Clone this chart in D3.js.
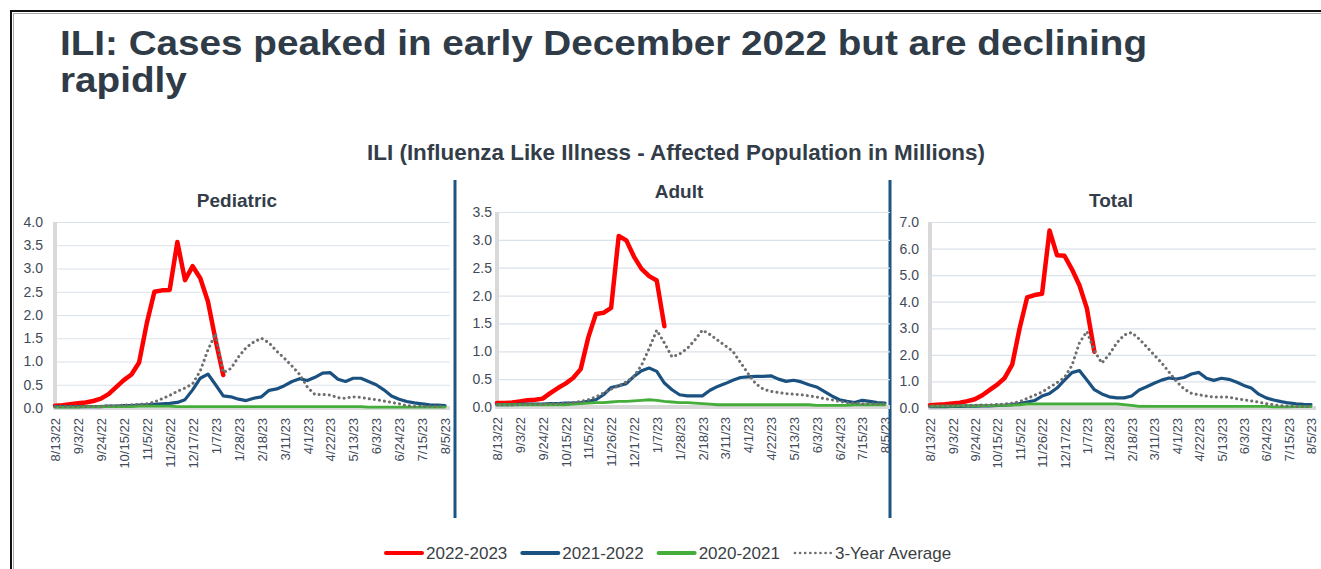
<!DOCTYPE html>
<html>
<head>
<meta charset="utf-8">
<script src="https://cdn.jsdelivr.net/npm/d3@7"></script>
<style>
  body { margin: 0; background: #fff; }
  text { font-family: "Liberation Sans", Arial, sans-serif; }
</style>
</head>
<body>
<svg width="1321" height="569"></svg>
<script>
// weekly categories (week ending)
const weeks = ["8/13/22","8/20/22","8/27/22","9/3/22","9/10/22","9/17/22","9/24/22","10/1/22","10/8/22","10/15/22",
  "10/22/22","10/29/22","11/5/22","11/12/22","11/19/22","11/26/22","12/3/22","12/10/22","12/17/22","12/24/22",
  "12/31/22","1/7/23","1/14/23","1/21/23","1/28/23","2/4/23","2/11/23","2/18/23","2/25/23","3/4/23",
  "3/11/23","3/18/23","3/25/23","4/1/23","4/8/23","4/15/23","4/22/23","4/29/23","5/6/23","5/13/23",
  "5/20/23","5/27/23","6/3/23","6/10/23","6/17/23","6/24/23","7/1/23","7/8/23","7/15/23","7/22/23",
  "7/29/23","8/5/23"];
const tickWeeks = ["8/13/22","9/3/22","9/24/22","10/15/22","11/5/22","11/26/22","12/17/22","1/7/23","1/28/23",
  "2/18/23","3/11/23","4/1/23","4/22/23","5/13/23","6/3/23","6/24/23","7/15/23","8/5/23"];

const seriesNames = ["2022-2023", "2021-2022", "2020-2021", "3-Year Average"];

// Pediatric
const pedRed = [0.05,0.06,0.08,0.10,0.12,0.15,0.20,0.30,0.45,0.60,0.72,0.98,1.82,2.50,2.53,2.54,3.57,2.75,3.05,2.79,2.29,1.46,0.71];
const pedBlue = [0.03,0.03,0.03,0.03,0.03,0.03,0.03,0.04,0.04,0.05,0.05,0.06,0.07,0.08,0.09,0.10,0.12,0.18,0.39,0.64,
  0.73,0.50,0.26,0.24,0.19,0.16,0.21,0.24,0.38,0.41,0.48,0.57,0.63,0.59,0.66,0.75,0.76,0.62,0.57,0.64,
  0.64,0.57,0.50,0.39,0.26,0.19,0.14,0.11,0.09,0.07,0.06,0.05];
const pedGreen = [0.02,0.02,0.02,0.02,0.03,0.03,0.03,0.03,0.03,0.03,0.03,0.04,0.04,0.04,0.04,0.04,0.03,0.03,0.03,0.03,
  0.03,0.03,0.03,0.03,0.03,0.03,0.03,0.03,0.03,0.03,0.03,0.03,0.03,0.03,0.03,0.03,0.03,0.03,0.03,0.03,
  0.03,0.02,0.02,0.02,0.02,0.02,0.02,0.02,0.02,0.02,0.02,0.02];
const pedAvg = [0.03,0.03,0.03,0.03,0.03,0.04,0.04,0.05,0.05,0.06,0.07,0.08,0.09,0.13,0.20,0.27,0.36,0.43,0.52,0.80,
  1.25,1.60,0.76,0.85,1.10,1.30,1.42,1.50,1.40,1.22,1.07,0.90,0.72,0.45,0.29,0.29,0.28,0.22,0.21,0.24,
  0.23,0.20,0.18,0.15,0.12,0.09,0.05,0.04,0.04,0.04,0.04,0.04];

// Adult
const adultRed = [0.07,0.07,0.08,0.10,0.12,0.13,0.15,0.25,0.34,0.42,0.52,0.68,1.25,1.67,1.69,1.78,3.07,2.99,2.70,2.48,2.35,2.27,1.45];
const adultBlue = [0.04,0.04,0.04,0.05,0.05,0.05,0.05,0.06,0.06,0.07,0.07,0.08,0.10,0.13,0.22,0.35,0.38,0.42,0.55,0.65,
  0.70,0.64,0.43,0.31,0.22,0.20,0.20,0.20,0.30,0.37,0.42,0.48,0.53,0.54,0.55,0.55,0.56,0.50,0.46,0.48,
  0.45,0.40,0.36,0.28,0.20,0.13,0.10,0.08,0.12,0.10,0.08,0.07];
const adultGreen = [0.04,0.04,0.04,0.04,0.04,0.04,0.04,0.04,0.04,0.04,0.05,0.06,0.07,0.08,0.08,0.09,0.10,0.10,0.11,0.12,
  0.13,0.12,0.10,0.09,0.08,0.08,0.07,0.06,0.05,0.04,0.04,0.04,0.04,0.04,0.04,0.04,0.04,0.04,0.04,0.04,
  0.04,0.04,0.03,0.03,0.03,0.03,0.03,0.04,0.04,0.04,0.04,0.04];
const adultAvg = [0.04,0.04,0.04,0.04,0.05,0.05,0.05,0.06,0.06,0.07,0.08,0.10,0.13,0.18,0.25,0.32,0.38,0.45,0.55,0.75,
  1.05,1.38,1.15,0.90,0.95,1.05,1.20,1.38,1.30,1.20,1.10,1.00,0.80,0.60,0.42,0.32,0.28,0.26,0.24,0.23,
  0.22,0.20,0.18,0.15,0.13,0.10,0.08,0.07,0.06,0.06,0.06,0.06];

// Total
const totalRed = [0.10,0.12,0.14,0.17,0.20,0.26,0.33,0.48,0.68,0.88,1.13,1.63,3.00,4.16,4.25,4.30,6.68,5.75,5.73,5.22,4.62,3.75,2.12];
const totalBlue = [0.05,0.05,0.05,0.06,0.06,0.07,0.07,0.08,0.08,0.10,0.11,0.13,0.17,0.22,0.28,0.45,0.55,0.75,1.05,1.33,
  1.41,1.05,0.69,0.53,0.42,0.38,0.38,0.45,0.68,0.80,0.93,1.05,1.13,1.09,1.15,1.28,1.34,1.12,1.04,1.12,
  1.08,0.98,0.85,0.75,0.52,0.38,0.30,0.24,0.19,0.16,0.14,0.13];
const totalGreen = [0.07,0.07,0.07,0.07,0.08,0.08,0.08,0.09,0.09,0.10,0.10,0.11,0.12,0.15,0.15,0.15,0.15,0.15,0.15,0.15,
  0.15,0.15,0.15,0.15,0.15,0.15,0.13,0.10,0.06,0.06,0.06,0.06,0.06,0.06,0.06,0.06,0.06,0.06,0.06,0.06,
  0.06,0.06,0.06,0.06,0.06,0.06,0.04,0.04,0.04,0.05,0.05,0.05];
const totalAvg = [0.07,0.07,0.08,0.08,0.09,0.10,0.10,0.11,0.12,0.13,0.15,0.18,0.24,0.36,0.48,0.60,0.78,0.95,1.15,1.60,
  2.45,2.88,2.15,1.69,2.02,2.45,2.75,2.84,2.60,2.30,2.00,1.70,1.35,1.00,0.72,0.55,0.50,0.45,0.41,0.41,
  0.41,0.35,0.31,0.27,0.22,0.16,0.12,0.09,0.07,0.06,0.06,0.06];

const colors = ["#ff0000", "#1a5180", "#45ad3a", "#6e6e6e"];
const widths = [4.5, 3.2, 2.8, 3];
const dots = "0.1,5";

const svg = d3.select("svg");
const tickColor = "#3f4a57";

// slide frame
svg.append("line").attr("x1", 10).attr("x2", 1321).attr("y1", 11).attr("y2", 11)
    .attr("stroke", "#111").attr("stroke-width", 2);
svg.append("line").attr("x1", 11).attr("x2", 11).attr("y1", 10).attr("y2", 569)
    .attr("stroke", "#111").attr("stroke-width", 2);
svg.append("line").attr("x1", 13).attr("x2", 1321).attr("y1", 13.5).attr("y2", 13.5)
    .attr("stroke", "#aaa").attr("stroke-width", 1);
svg.append("line").attr("x1", 13.5).attr("x2", 13.5).attr("y1", 13).attr("y2", 569)
    .attr("stroke", "#aaa").attr("stroke-width", 1);

function fitWidth(sel, w) {
    let size = parseFloat(sel.attr("font-size"));
    let len = sel.node().getComputedTextLength();
    sel.attr("font-size", size * w / len);
}

// headline: 35px glyphs, stretched sideways like the slide's rendering
const title1 = svg.append("text").attr("x", 60).attr("y", 55)
    .attr("font-size", 35).attr("font-weight", "bold").attr("fill", "#2f3b47")
    .text("ILI: Cases peaked in early December 2022 but are declining");
const stretch = 1087 / title1.node().getComputedTextLength();
title1.attr("textLength", 1087).attr("lengthAdjust", "spacingAndGlyphs");
const title2 = svg.append("text").attr("x", 60).attr("y", 92)
    .attr("font-size", 35).attr("font-weight", "bold").attr("fill", "#2f3b47")
    .text("rapidly");
title2.attr("textLength", title2.node().getComputedTextLength() * stretch)
    .attr("lengthAdjust", "spacingAndGlyphs");

const sub = svg.append("text").attr("x", 676).attr("y", 160).attr("text-anchor", "middle")
    .attr("font-size", 18).attr("font-weight", "bold").attr("fill", "#333d48")
    .text("ILI (Influenza Like Illness - Affected Population in Millions)");
fitWidth(sub, 618);

// dividers between panels
[455, 890].forEach(x => {
    svg.append("line").attr("x1", x).attr("x2", x).attr("y1", 180).attr("y2", 518)
        .attr("stroke", "#1b5583").attr("stroke-width", 3);
});

const panels = [
    {name: "Pediatric", left: 55, right: 445, top: 222, bottom: 408, max: 4, step: 0.5, pad: 12,
     titleX: 237, titleY: 207, data: [pedRed, pedBlue, pedGreen, pedAvg]},
    {name: "Adult", left: 497, right: 885, top: 212, bottom: 407, max: 3.5, step: 0.5, pad: 5,
     titleX: 679, titleY: 198, data: [adultRed, adultBlue, adultGreen, adultAvg]},
    {name: "Total", left: 930, right: 1311, top: 222, bottom: 408, max: 7, step: 1, pad: 11,
     titleX: 1111, titleY: 207, data: [totalRed, totalBlue, totalGreen, totalAvg]}
];

panels.forEach(p => {
    const g = svg.append("g");
    const x = d3.scalePoint().domain(weeks).range([p.left, p.right]);
    const y = d3.scaleLinear().domain([0, p.max]).range([p.bottom, p.top]);
    const yTicks = d3.range(0, p.max + 0.001, p.step);

    g.append("text").attr("x", p.titleX).attr("y", p.titleY).attr("text-anchor", "middle")
        .attr("font-size", 19).attr("font-weight", "bold").attr("fill", "#333d48")
        .text(p.name);

    // gridlines
    g.append("g").attr("transform", `translate(${p.left},0)`)
        .call(d3.axisLeft(y).tickValues(yTicks).tickSize(-(p.right - p.left + 5)).tickFormat(""))
        .call(a => a.select(".domain").remove())
        .selectAll("line").attr("stroke", "#dae2ea").attr("stroke-width", 1.2);

    // y labels
    g.append("g").attr("transform", `translate(${p.left},0)`)
        .call(d3.axisLeft(y).tickValues(yTicks).tickSize(0).tickPadding(p.pad).tickFormat(d3.format(".1f")))
        .call(a => a.select(".domain").remove())
        .selectAll("text").attr("font-size", 14).attr("fill", tickColor)
        .style("font-family", '"Liberation Sans", Arial, sans-serif');

    // gray axis bars
    g.append("line").attr("x1", p.left).attr("x2", p.left).attr("y1", p.top).attr("y2", p.bottom + 2)
        .attr("stroke", "#d9d9d9").attr("stroke-width", 4);
    g.append("line").attr("x1", p.left - 2).attr("x2", p.right + 5).attr("y1", p.bottom).attr("y2", p.bottom)
        .attr("stroke", "#d9d9d9").attr("stroke-width", 4);

    // x labels
    g.append("g").attr("transform", `translate(0,${p.bottom})`)
        .call(d3.axisBottom(x).tickValues(tickWeeks).tickSize(0))
        .call(a => a.select(".domain").remove())
        .selectAll("text")
        .attr("transform", "rotate(-90)")
        .attr("text-anchor", "end")
        .attr("x", -10).attr("y", 0).attr("dy", "0.36em")
        .attr("font-size", 13).attr("fill", tickColor)
        .style("font-family", '"Liberation Sans", Arial, sans-serif');

    const line = d3.line()
        .x((d, i) => x(weeks[i]))
        .y(d => y(d));

    p.data.forEach((vals, k) => {
        const path = g.append("path").datum(vals)
            .attr("fill", "none")
            .attr("stroke", colors[k])
            .attr("stroke-width", widths[k])
            .attr("stroke-linejoin", "round")
            .attr("stroke-linecap", "round")
            .attr("d", line);
        if (k === 3) path.attr("stroke-dasharray", dots);
    });
});

// legend
let lx = 386;
seriesNames.forEach((name, k) => {
    const item = svg.append("g");
    const ln = item.append("line").attr("x1", lx).attr("x2", lx + 36).attr("y1", 553).attr("y2", 553)
        .attr("stroke", colors[k]).attr("stroke-width", k === 3 ? 2.6 : 4)
        .attr("stroke-linecap", "round");
    if (k === 3) ln.attr("stroke-dasharray", dots);
    const t = item.append("text").attr("x", lx + 40).attr("y", 559)
        .attr("font-size", 17).attr("fill", "#3a3f45").text(name);
    lx += 40 + t.node().getComputedTextLength() + 15;
});
</script>
</body>
</html>
